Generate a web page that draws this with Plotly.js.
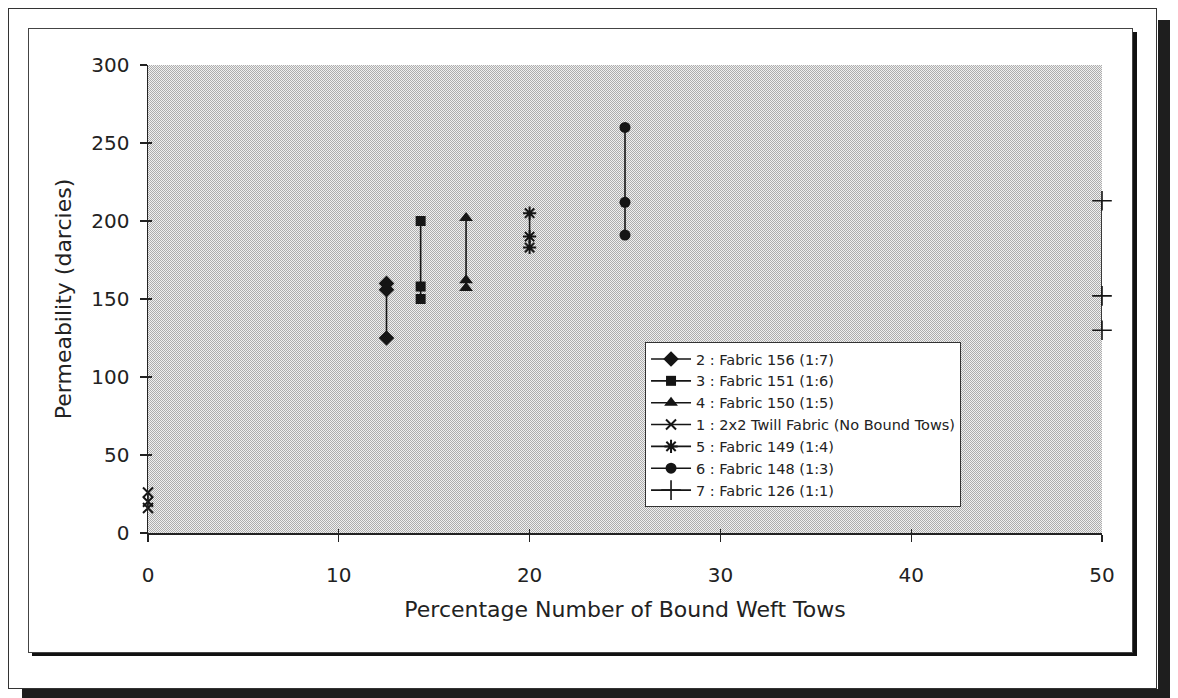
<!DOCTYPE html>
<html>
<head>
<meta charset="utf-8">
<script src="https://cdn.plot.ly/plotly-3.0.1.min.js"></script>
<style>
  html, body { margin:0; padding:0; background:#ffffff; width:1178px; height:698px; overflow:hidden; }
  .frame { position:absolute; box-sizing:border-box; }
  #outer { left:8px; top:8px; width:1149px; height:681px; border:1.5px solid #333; }
  #outerShadowR { left:1158px; top:20px; width:12px; height:678px; background:#1e1e1e; }
  #outerShadowB { left:22px; top:689px; width:1148px; height:9px; background:#1e1e1e; }
  #inner { left:28px; top:28px; width:1105px; height:625px; border:1px solid #444; }
  #innerShadowR { left:1133px; top:32px; width:4px; height:624px; background:#111; }
  #innerShadowB { left:32px; top:652px; width:1105px; height:4px; background:#111; }
  #plotbg { left:148px; top:65px; width:954px; height:468px;
    background: repeating-conic-gradient(#adadad 0 25%, #f0f0f0 0 50%) 0 0 / 2px 2px; }
  #chart { position:absolute; left:0; top:0; width:1178px; height:698px; }
</style>
</head>
<body>
<div class="frame" id="outerShadowR"></div>
<div class="frame" id="outerShadowB"></div>
<div class="frame" id="outer"></div>
<div class="frame" id="innerShadowR"></div>
<div class="frame" id="innerShadowB"></div>
<div class="frame" id="inner"></div>
<div class="frame" id="plotbg"></div>
<div id="chart"></div>
<script>
// Series names (legend order)
const seriesNames = [
  "2 : Fabric 156 (1:7)",
  "3 : Fabric 151 (1:6)",
  "4 : Fabric 150 (1:5)",
  "1 : 2x2 Twill Fabric (No Bound Tows)",
  "5 : Fabric 149 (1:4)",
  "6 : Fabric 148 (1:3)",
  "7 : Fabric 126 (1:1)"
];
// Percentage number of bound weft tows / permeability (darcies) for each series
const fabric156X = [12.5, 12.5, 12.5];
const fabric156Y = [160, 156, 125];
const fabric151X = [14.29, 14.29, 14.29];
const fabric151Y = [200, 158, 150];
const fabric150X = [16.67, 16.67, 16.67];
const fabric150Y = [202, 162, 157];
const twillX = [0, 0, 0];
const twillY = [26, 20, 16];
const fabric149X = [20, 20, 20];
const fabric149Y = [205, 190, 183];
const fabric148X = [25, 25, 25];
const fabric148Y = [260, 212, 191];
const fabric126X = [50, 50, 50];
const fabric126Y = [213, 152, 130];

const xTicks = [0, 10, 20, 30, 40, 50];
const yTicks = [0, 50, 100, 150, 200, 250, 300];

const ink = "#151515";
function series(name, x, y, symbol, size, lw) {
  return {
    type: "scatter", mode: "lines+markers", name: name, x: x, y: y,
    cliponaxis: false,
    line: { color: ink, width: 1.6 },
    marker: { symbol: symbol, size: size, color: ink, line: { color: ink, width: lw } }
  };
}
const traces = [
  series(seriesNames[0], fabric156X, fabric156Y, "diamond", 12, 0),
  series(seriesNames[1], fabric151X, fabric151Y, "square", 10, 0),
  series(seriesNames[2], fabric150X, fabric150Y, "triangle-up", 12, 0),
  series(seriesNames[3], twillX, twillY, "x-thin-open", 10, 2),
  series(seriesNames[4], fabric149X, fabric149Y, "asterisk-open", 11, 2),
  series(seriesNames[5], fabric148X, fabric148Y, "circle", 11, 0),
  series(seriesNames[6], fabric126X, fabric126Y, "cross-thin-open", 14, 1.6),
  { type: "scatter", x: [], y: [], xaxis: "x2", yaxis: "y2", showlegend: false, hoverinfo: "skip" }
];

const fam = "DejaVu Sans, Liberation Sans, Arial, sans-serif";
const font = { family: fam, color: "#222" };
const layout = {
  width: 1178, height: 698,
  margin: { l: 148, r: 76, t: 65, b: 165 },
  paper_bgcolor: "rgba(0,0,0,0)",
  plot_bgcolor: "rgba(0,0,0,0)",
  showlegend: true,
  font: font,
  xaxis: {
    range: [0, 50], tickvals: xTicks, ticktext: xTicks.map(String),
    showgrid: false, zeroline: false, showline: true, linecolor: "#222", linewidth: 1.5,
    ticks: "outside", ticklen: 7, tickcolor: "#222", tickwidth: 1.2, ticklabelstandoff: 16,
    tickfont: { family: fam, size: 20, color: "#222" },
    title: { text: "Percentage Number of Bound Weft Tows", font: { family: fam, size: 22, color: "#222" }, standoff: 16 }
  },
  yaxis: {
    range: [0, 300], tickvals: yTicks, ticktext: yTicks.map(String),
    showgrid: false, zeroline: false, showline: true, linecolor: "#222", linewidth: 1.5,
    ticks: "outside", ticklen: 7, tickcolor: "#222", tickwidth: 1.2, ticklabelstandoff: 6,
    tickfont: { family: fam, size: 20, color: "#222" },
    title: { text: "Permeability (darcies)", font: { family: fam, size: 22, color: "#222" }, standoff: 13 }
  },
  xaxis2: {
    overlaying: "x", anchor: "y2", range: [0, 50], tickvals: xTicks, showticklabels: false,
    showgrid: false, zeroline: false, showline: false, ticks: "inside", ticklen: 4, tickcolor: "#222", tickwidth: 1.2
  },
  yaxis2: {
    overlaying: "y", anchor: "x2", range: [0, 300], tickvals: yTicks, showticklabels: false,
    showgrid: false, zeroline: false, showline: false, ticks: "inside", ticklen: 4, tickcolor: "#222", tickwidth: 1.2
  },
  legend: {
    x: 0.521, y: 0.408, xanchor: "left", yanchor: "top",
    bgcolor: "#ffffff", bordercolor: "#333", borderwidth: 1,
    font: { family: fam, size: 14.5, color: "#222" },
    tracegroupgap: 0, itemwidth: 40
  }
};
Plotly.newPlot("chart", traces, layout, { displayModeBar: false, staticPlot: true });
</script>
</body>
</html>
